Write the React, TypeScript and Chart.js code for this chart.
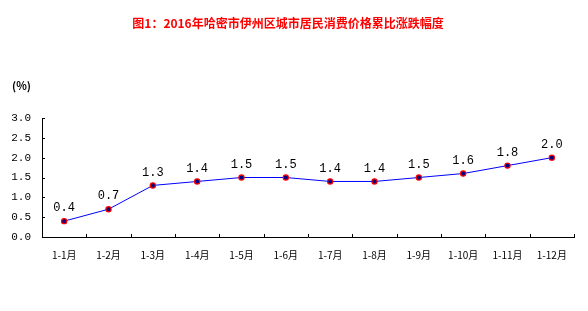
import React, { useEffect, useRef } from "react";
import { Chart, registerables } from "chart.js";

Chart.register(...registerables);

const titleText = "图1：2016年哈密市伊州区城市居民消费价格累比涨跌幅度";
const unitText = "(%)";
const categories = ["1-1月", "1-2月", "1-3月", "1-4月", "1-5月", "1-6月", "1-7月", "1-8月", "1-9月", "1-10月", "1-11月", "1-12月"];
const values = [0.4, 0.7, 1.3, 1.4, 1.5, 1.5, 1.4, 1.4, 1.5, 1.6, 1.8, 2.0];
const yMin = 0;
const yMax = 3;
const yStep = 0.5;

const decorPlugin = {
  id: "decor",
  afterDraw(chart: any) {
    const ctx = chart.ctx;
    const area = chart.chartArea;
    const xs = chart.scales.x;
    const ys = chart.scales.y;
    ctx.save();
    ctx.fillStyle = "#FF0000";
    ctx.font = "bold 12px 'Noto Sans CJK SC'";
    ctx.textAlign = "center";
    ctx.textBaseline = "middle";
    ctx.fillText(titleText, 288, 23);
    ctx.fillStyle = "#000";
    ctx.font = "bold 11px 'Noto Sans CJK SC'";
    ctx.textAlign = "left";
    ctx.fillText(unitText, 12, 86);
    ctx.strokeStyle = "#000";
    ctx.lineWidth = 1;
    ctx.beginPath();
    for (let v = yMin; v <= yMax + 1e-9; v += yStep) {
      const y = Math.round(ys.getPixelForValue(v)) + 0.5;
      ctx.moveTo(area.left, y);
      ctx.lineTo(area.left + 3, y);
    }
    for (let i = 0; i <= categories.length; i++) {
      const x = Math.round(xs.left + (xs.width * i) / categories.length) + 0.5;
      ctx.moveTo(x, area.bottom);
      ctx.lineTo(x, area.bottom - 3);
    }
    ctx.stroke();
    const meta = chart.getDatasetMeta(0);
    ctx.font = "12px 'Liberation Mono'";
    ctx.textAlign = "center";
    ctx.textBaseline = "middle";
    ctx.fillStyle = "#000";
    meta.data.forEach((pt: any, i: number) => {
      ctx.fillText(values[i].toFixed(1), pt.x, pt.y - 13);
    });
    ctx.restore();
  },
};

export default function App() {
  const ref = useRef<HTMLCanvasElement>(null);
  useEffect(() => {
    const chart = new Chart(ref.current!, {
      type: "line",
      data: {
        labels: categories,
        datasets: [
          {
            data: values,
            borderColor: "#0000FF",
            borderWidth: 1,
            pointBackgroundColor: "#000080",
            pointBorderColor: "#FF0000",
            pointBorderWidth: 1.2,
            pointRadius: 2.6,
            tension: 0,
          },
        ],
      },
      options: {
        animation: false,
        responsive: false,
        maintainAspectRatio: false,
        layout: { padding: { top: 118, right: 14, left: 0, bottom: 0 } },
        plugins: { legend: { display: false }, title: { display: false }, tooltip: { enabled: false } },
        scales: {
          x: {
            offset: true,
            grid: { display: false, drawTicks: false },
            border: { display: true, color: "#000", width: 1 },
            ticks: { color: "#000", font: { family: "'Noto Sans CJK SC'", size: 10 }, padding: 12, maxRotation: 0, autoSkip: false },
            afterFit(scale: any) {
              scale.height = 74;
            },
          },
          y: {
            min: yMin,
            max: yMax,
            grid: { display: false, drawTicks: false },
            border: { display: true, color: "#000", width: 1 },
            ticks: {
              stepSize: yStep,
              color: "#000",
              font: { family: "'Liberation Mono'", size: 11 },
              padding: 11,
              callback: (v: any) => Number(v).toFixed(1),
            },
            afterFit(scale: any) {
              scale.width = 42;
            },
          },
        },
      },
      plugins: [decorPlugin],
    });
    return () => chart.destroy();
  }, []);
  return (
    <div style={{ position: "absolute", left: 0, top: 0, width: 588, height: 311, background: "#fff" }}>
      <canvas ref={ref} width={588} height={311} style={{ width: 588, height: 311 }} />
    </div>
  );
}
